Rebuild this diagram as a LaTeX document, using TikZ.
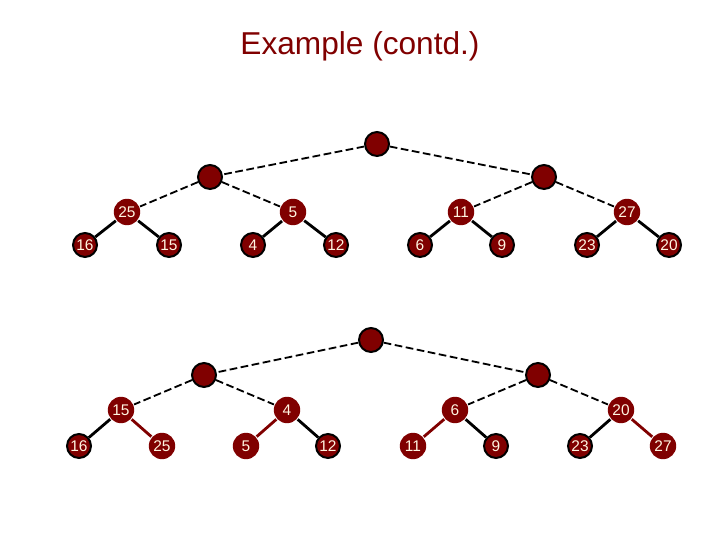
\documentclass[tikz,border=0pt]{standalone}
\usepackage{fontspec}
\setmainfont{Liberation Sans}
\usetikzlibrary{positioning}
\definecolor{maroon}{RGB}{128,0,0}
\definecolor{cream}{RGB}{255,245,225}
\tikzset{
  heap/.style={circle,fill=maroon,draw=black,line width=1.4pt,minimum size=0.6cm,inner sep=0pt,text=cream,font=\fontsize{11}{13}\selectfont},
  heapfree/.style={heap,draw=none,minimum size=0.66cm},
  meld/.style={line width=1.3pt,dash pattern=on 5.5pt off 2.5pt},
  link/.style={line width=2pt},
  redlink/.style={line width=2pt,draw=maroon}
}
\begin{document}
\begin{tikzpicture}
\useasboundingbox (0,0) rectangle (18,13.5);
\node[text=maroon,font=\fontsize{22.5}{26}\selectfont] (title) at (9.0,12.35) {Example (contd.)};

% top forest
\node[heap] (tr) at (9.425,9.9) {};
\node[heap] (ta) at (5.25,9.075) {};
\node[heap] (tb) at (13.6,9.075) {};
\node[heapfree] (t25) at (3.175,8.2) {25};
\node[heapfree] (t5) at (7.325,8.2) {5};
\node[heapfree] (t11) at (11.525,8.2) {11};
\node[heapfree] (t27) at (15.675,8.2) {27};
\node[heap] (t16) at (2.125,7.375) {16};
\node[heap] (t15) at (4.225,7.375) {15};
\node[heap] (t4) at (6.325,7.375) {4};
\node[heap] (t12) at (8.4,7.375) {12};
\node[heap] (t6) at (10.5,7.375) {6};
\node[heap] (t9) at (12.55,7.375) {9};
\node[heap] (t23) at (14.675,7.375) {23};
\node[heap] (t20) at (16.725,7.375) {20};

\draw[meld] (tr) -- (ta);
\draw[meld] (tr) -- (tb);
\draw[meld] (ta) -- (t25);
\draw[meld] (ta) -- (t5);
\draw[meld] (tb) -- (t11);
\draw[meld] (tb) -- (t27);
\draw[link] (t25) -- (t16);
\draw[link] (t25) -- (t15);
\draw[link] (t5) -- (t4);
\draw[link] (t5) -- (t12);
\draw[link] (t11) -- (t6);
\draw[link] (t11) -- (t9);
\draw[link] (t27) -- (t23);
\draw[link] (t27) -- (t20);

% bottom forest
\node[heap] (br) at (9.275,5.0) {};
\node[heap] (ba) at (5.1,4.125) {};
\node[heap] (bb) at (13.45,4.125) {};
\node[heapfree] (b15) at (3.025,3.25) {15};
\node[heapfree] (b4) at (7.175,3.25) {4};
\node[heapfree] (b6) at (11.375,3.25) {6};
\node[heapfree] (b20) at (15.525,3.25) {20};
\node[heap] (b16) at (1.975,2.35) {16};
\node[heapfree] (b25) at (4.05,2.35) {25};
\node[heapfree] (b5) at (6.15,2.35) {5};
\node[heap] (b12) at (8.2,2.35) {12};
\node[heapfree] (b11) at (10.325,2.35) {11};
\node[heap] (b9) at (12.4,2.35) {9};
\node[heap] (b23) at (14.5,2.35) {23};
\node[heapfree] (b27) at (16.575,2.35) {27};

\draw[meld] (br) -- (ba);
\draw[meld] (br) -- (bb);
\draw[meld] (ba) -- (b15);
\draw[meld] (ba) -- (b4);
\draw[meld] (bb) -- (b6);
\draw[meld] (bb) -- (b20);
\draw[link] (b15) -- (b16);
\draw[redlink] (b15) -- (b25);
\draw[redlink] (b4) -- (b5);
\draw[link] (b4) -- (b12);
\draw[redlink] (b6) -- (b11);
\draw[link] (b6) -- (b9);
\draw[link] (b20) -- (b23);
\draw[redlink] (b20) -- (b27);
\end{tikzpicture}
\end{document}
